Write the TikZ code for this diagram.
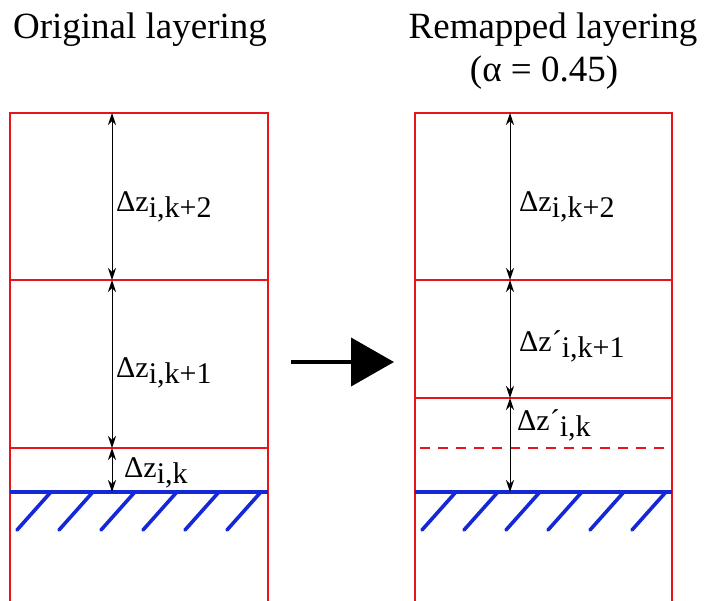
\documentclass[tikz,border=0pt]{standalone}
\usepackage{fontspec}
\setmainfont{Liberation Serif}
\usetikzlibrary{arrows.meta,positioning,calc}
\definecolor{layercol}{HTML}{E8141C}
\definecolor{bedcol}{HTML}{1428D8}

\newcommand{\lsub}[1]{\raisebox{-0.45ex}{#1}}

\begin{document}
\begin{tikzpicture}[x=1pt,y=-1pt,
  title/.style={font=\fontsize{37}{40}\selectfont, inner sep=0pt},
  lbl/.style={font=\fontsize{30}{32}\selectfont, anchor=base west, inner sep=0pt},
  iface/.style={draw=layercol, line width=1.8pt},
  bed/.style={draw=bedcol, line width=4.5pt},
  hatch/.style={draw=bedcol, line width=3.6pt, line cap=round},
  dim/.style={{Stealth[length=12pt,width=8pt]}-{Stealth[length=12pt,width=8pt]}, line width=1pt}]
  \useasboundingbox (0,0) rectangle (707,600);

  % titles
  \node[title] (torig) at (140,30) {Original layering};
  \node[title] (tremap) at (553,30) {Remapped layering};
  \node[title] (talpha) at (544,73) {(α = 0.45)};

  % original column
  \draw[iface] (10,601) -- (10,113) -- (268,113) -- (268,601);
  \draw[iface] (10,280) -- (268,280);
  \draw[iface] (10,448) -- (268,448);
  \foreach \i in {0,...,5}
    \draw[hatch] (50+42*\i,493) -- ++(-33,37);
  \draw[bed] (10,492) -- (268,492);
  \coordinate (a3) at (112,113);
  \coordinate (a2) at (112,280);
  \coordinate (a1) at (112,448);
  \coordinate (a0) at (112,492);
  \draw[dim] (a3) -- (a2);
  \draw[dim] (a2) -- (a1);
  \draw[dim] (a1) -- (a0);
  \node[lbl] (la2) at (116,211) {Δz\lsub{i,k+2}};
  \node[lbl] (la1) at (116,377) {Δz\lsub{i,k+1}};
  \node[lbl] (la0) at (124,477) {Δz\lsub{i,k}};

  % remapped column
  \draw[iface] (415,601) -- (415,113) -- (672,113) -- (672,601);
  \draw[iface] (415,280) -- (672,280);
  \draw[iface] (415,398) -- (672,398);
  \draw[iface, dash pattern=on 10pt off 8pt] (420,448) -- (668,448);
  \foreach \i in {0,...,5}
    \draw[hatch] (455+42*\i,493) -- ++(-33,37);
  \draw[bed] (415,492) -- (672,492);
  \coordinate (b3) at (510,113);
  \coordinate (b2) at (510,280);
  \coordinate (b1) at (510,398);
  \coordinate (b0) at (510,492);
  \draw[dim] (b3) -- (b2);
  \draw[dim] (b2) -- (b1);
  \draw[dim] (b1) -- (b0);
  \node[lbl] (lb2) at (519,211) {Δz\lsub{i,k+2}};
  \node[lbl] (lb1) at (519,351) {Δz´\lsub{i,k+1}};
  \node[lbl] (lb0) at (517,430) {Δz´\lsub{i,k}};

  % remapping arrow
  \coordinate (from) at (291,362);
  \coordinate (to) at (394,362);
  \draw[line width=4pt, -{Triangle[length=43pt,width=48pt]}] (from) -- (to);
\end{tikzpicture}
\end{document}
